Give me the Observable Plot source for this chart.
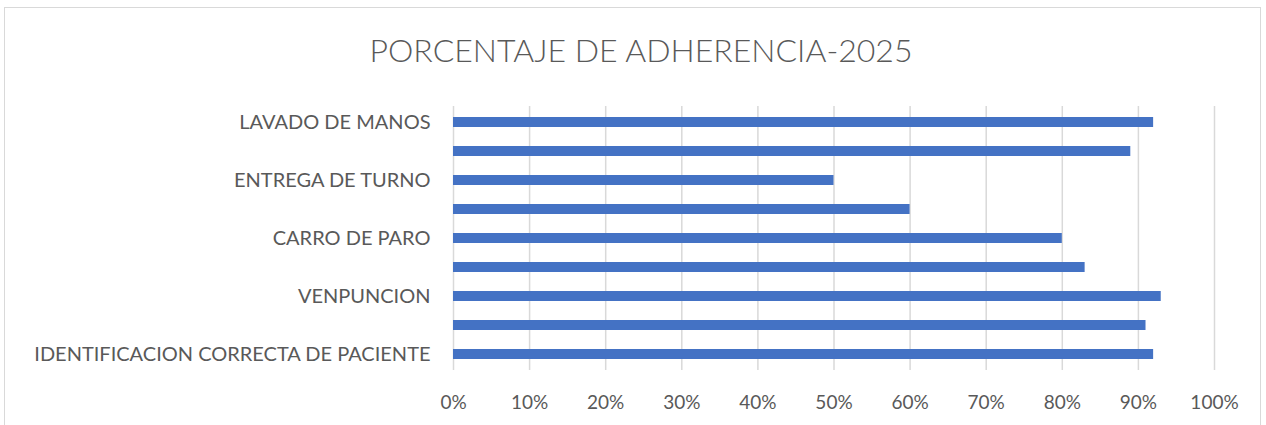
<!DOCTYPE html>
<html>
<head>
<meta charset="utf-8">
<script src="https://cdn.jsdelivr.net/npm/d3@7"></script>
<script src="https://cdn.jsdelivr.net/npm/@observablehq/plot@0.6"></script>
<style>
  html, body { margin: 0; padding: 0; background: #fff; width: 1266px; height: 425px; overflow: hidden; }
  #wrap { position: relative; width: 1266px; height: 425px; font-family: Lato, "Open Sans", sans-serif; }
  #frame { position: absolute; left: 4px; top: 7px; width: 1257px; height: 440px; border: 1px solid #d9d9d9; box-sizing: border-box; pointer-events: none; }
  #title { height: 100px; line-height: 100px; text-align: center; font-size: 32px; font-weight: 300; color: #595959; padding-left: 16px; box-sizing: border-box; }
  #chart svg { display: block; }
</style>
</head>
<body>
<div id="wrap">
  <div id="frame"></div>
  <div id="title">PORCENTAJE DE ADHERENCIA-2025</div>
  <div id="chart"></div>
</div>
<script>
// categories from bottom to top as in the reference
const categories = [
  "IDENTIFICACION CORRECTA DE PACIENTE",
  "CATEGORIA 2",
  "VENPUNCION",
  "CATEGORIA 4",
  "CARRO DE PARO",
  "CATEGORIA 6",
  "ENTREGA DE TURNO",
  "CATEGORIA 8",
  "LAVADO DE MANOS"
];
const values = [0.92, 0.91, 0.93, 0.83, 0.80, 0.60, 0.50, 0.89, 0.92];
const shownLabels = ["IDENTIFICACION CORRECTA DE PACIENTE", "VENPUNCION", "CARRO DE PARO", "ENTREGA DE TURNO", "LAVADO DE MANOS"];
const xTicks = [0, 0.1, 0.2, 0.3, 0.4, 0.5, 0.6, 0.7, 0.8, 0.9, 1.0];

const data = categories.map((c, i) => ({category: c, value: values[i]}));

const chart = Plot.plot({
  width: 1266,
  height: 325,
  marginTop: 6,
  marginBottom: 55,
  marginLeft: 453,
  marginRight: 52,
  style: {fontFamily: "Lato, 'Open Sans', sans-serif", fontSize: "16px", color: "#595959", background: "#fff"},
  x: {domain: [0, 1]},
  y: {domain: categories.slice().reverse(), paddingInner: 0.66, paddingOuter: 0.33},
  marks: [
    Plot.gridX(xTicks, {stroke: "#d9d9d9", strokeOpacity: 1, strokeWidth: 1.5}),
    Plot.barX(data, {x: "value", y: "category", fill: "#4472C4"}),
    Plot.axisX({ticks: xTicks, tickFormat: d3.format(".0%"), tickSize: 0, tickPadding: 25, label: null, fill: "#595959", fontSize: 19}),
    Plot.axisY({ticks: shownLabels, tickSize: 0, tickPadding: 23, label: null, fill: "#595959", fontSize: 20})
  ]
});
document.getElementById("chart").appendChild(chart);
</script>
</body>
</html>
